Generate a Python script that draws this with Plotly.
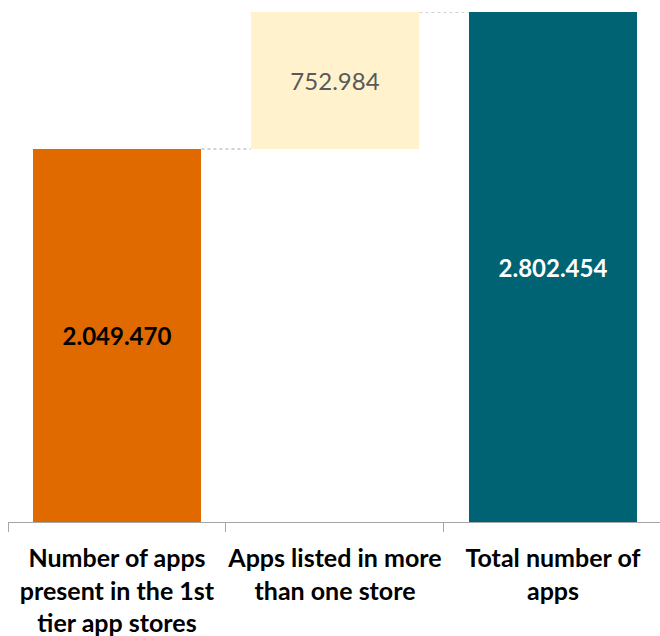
import plotly.graph_objects as go

categories = ["Number of apps<br>present in the 1st<br>tier app stores",
              "Apps listed in more<br>than one store",
              "Total number of<br>apps"]
values = [2049470, 752984, 2802454]
bases = [0, 2049470, 0]
labels = ["<b>2.049.470</b>", "752.984", "<b>2.802.454</b>"]
colors = ["#E06A00", "#FFF2CC", "#006374"]
label_colors = ["#000000", "#595959", "#FFFFFF"]

bar_width = 0.775
xs = [0, 1, 2]

fig = go.Figure()
fig.add_trace(go.Bar(
    x=xs, y=values, base=bases, width=bar_width,
    marker=dict(color=colors, line=dict(width=0)),
    text=labels, textposition="inside", insidetextanchor="middle",
    textangle=0, constraintext="none",
    textfont=dict(color=label_colors, size=24, family="Lato"),
    hoverinfo="skip",
))

# connectors
tops = [b + v for b, v in zip(bases, values)]
for i in range(2):
    fig.add_shape(type="line", xref="x", yref="y",
                  x0=xs[i] + bar_width / 2, x1=xs[i + 1] - bar_width / 2,
                  y0=tops[i], y1=tops[i],
                  line=dict(color="#A6A6A6", width=1, dash="dot"))

fig.update_layout(
    width=660, height=636,
    margin=dict(l=8, r=0, t=12, b=114),
    plot_bgcolor="white", paper_bgcolor="white",
    showlegend=False, bargap=0,
    font=dict(family="Lato"),
)
fig.update_xaxes(
    tickmode="array", tickvals=xs, ticktext=categories,
    range=[-0.5, 2.491], showgrid=False, zeroline=False,
    showline=True, linecolor="#A6A6A6", linewidth=1,
    ticks="", ticklabelstandoff=14,
    tickfont=dict(size=25, color="#000000", family="Lato", weight="bold"),
)
fig.update_xaxes(minor=dict(tickmode="array", tickvals=[-0.5, 0.5, 1.5, 2.5],
                            ticks="outside", ticklen=9, tickcolor="#A6A6A6", tickwidth=1))
fig.update_yaxes(range=[0, max(tops)], visible=False, showgrid=False, zeroline=False)

fig.write_html("out.html")
